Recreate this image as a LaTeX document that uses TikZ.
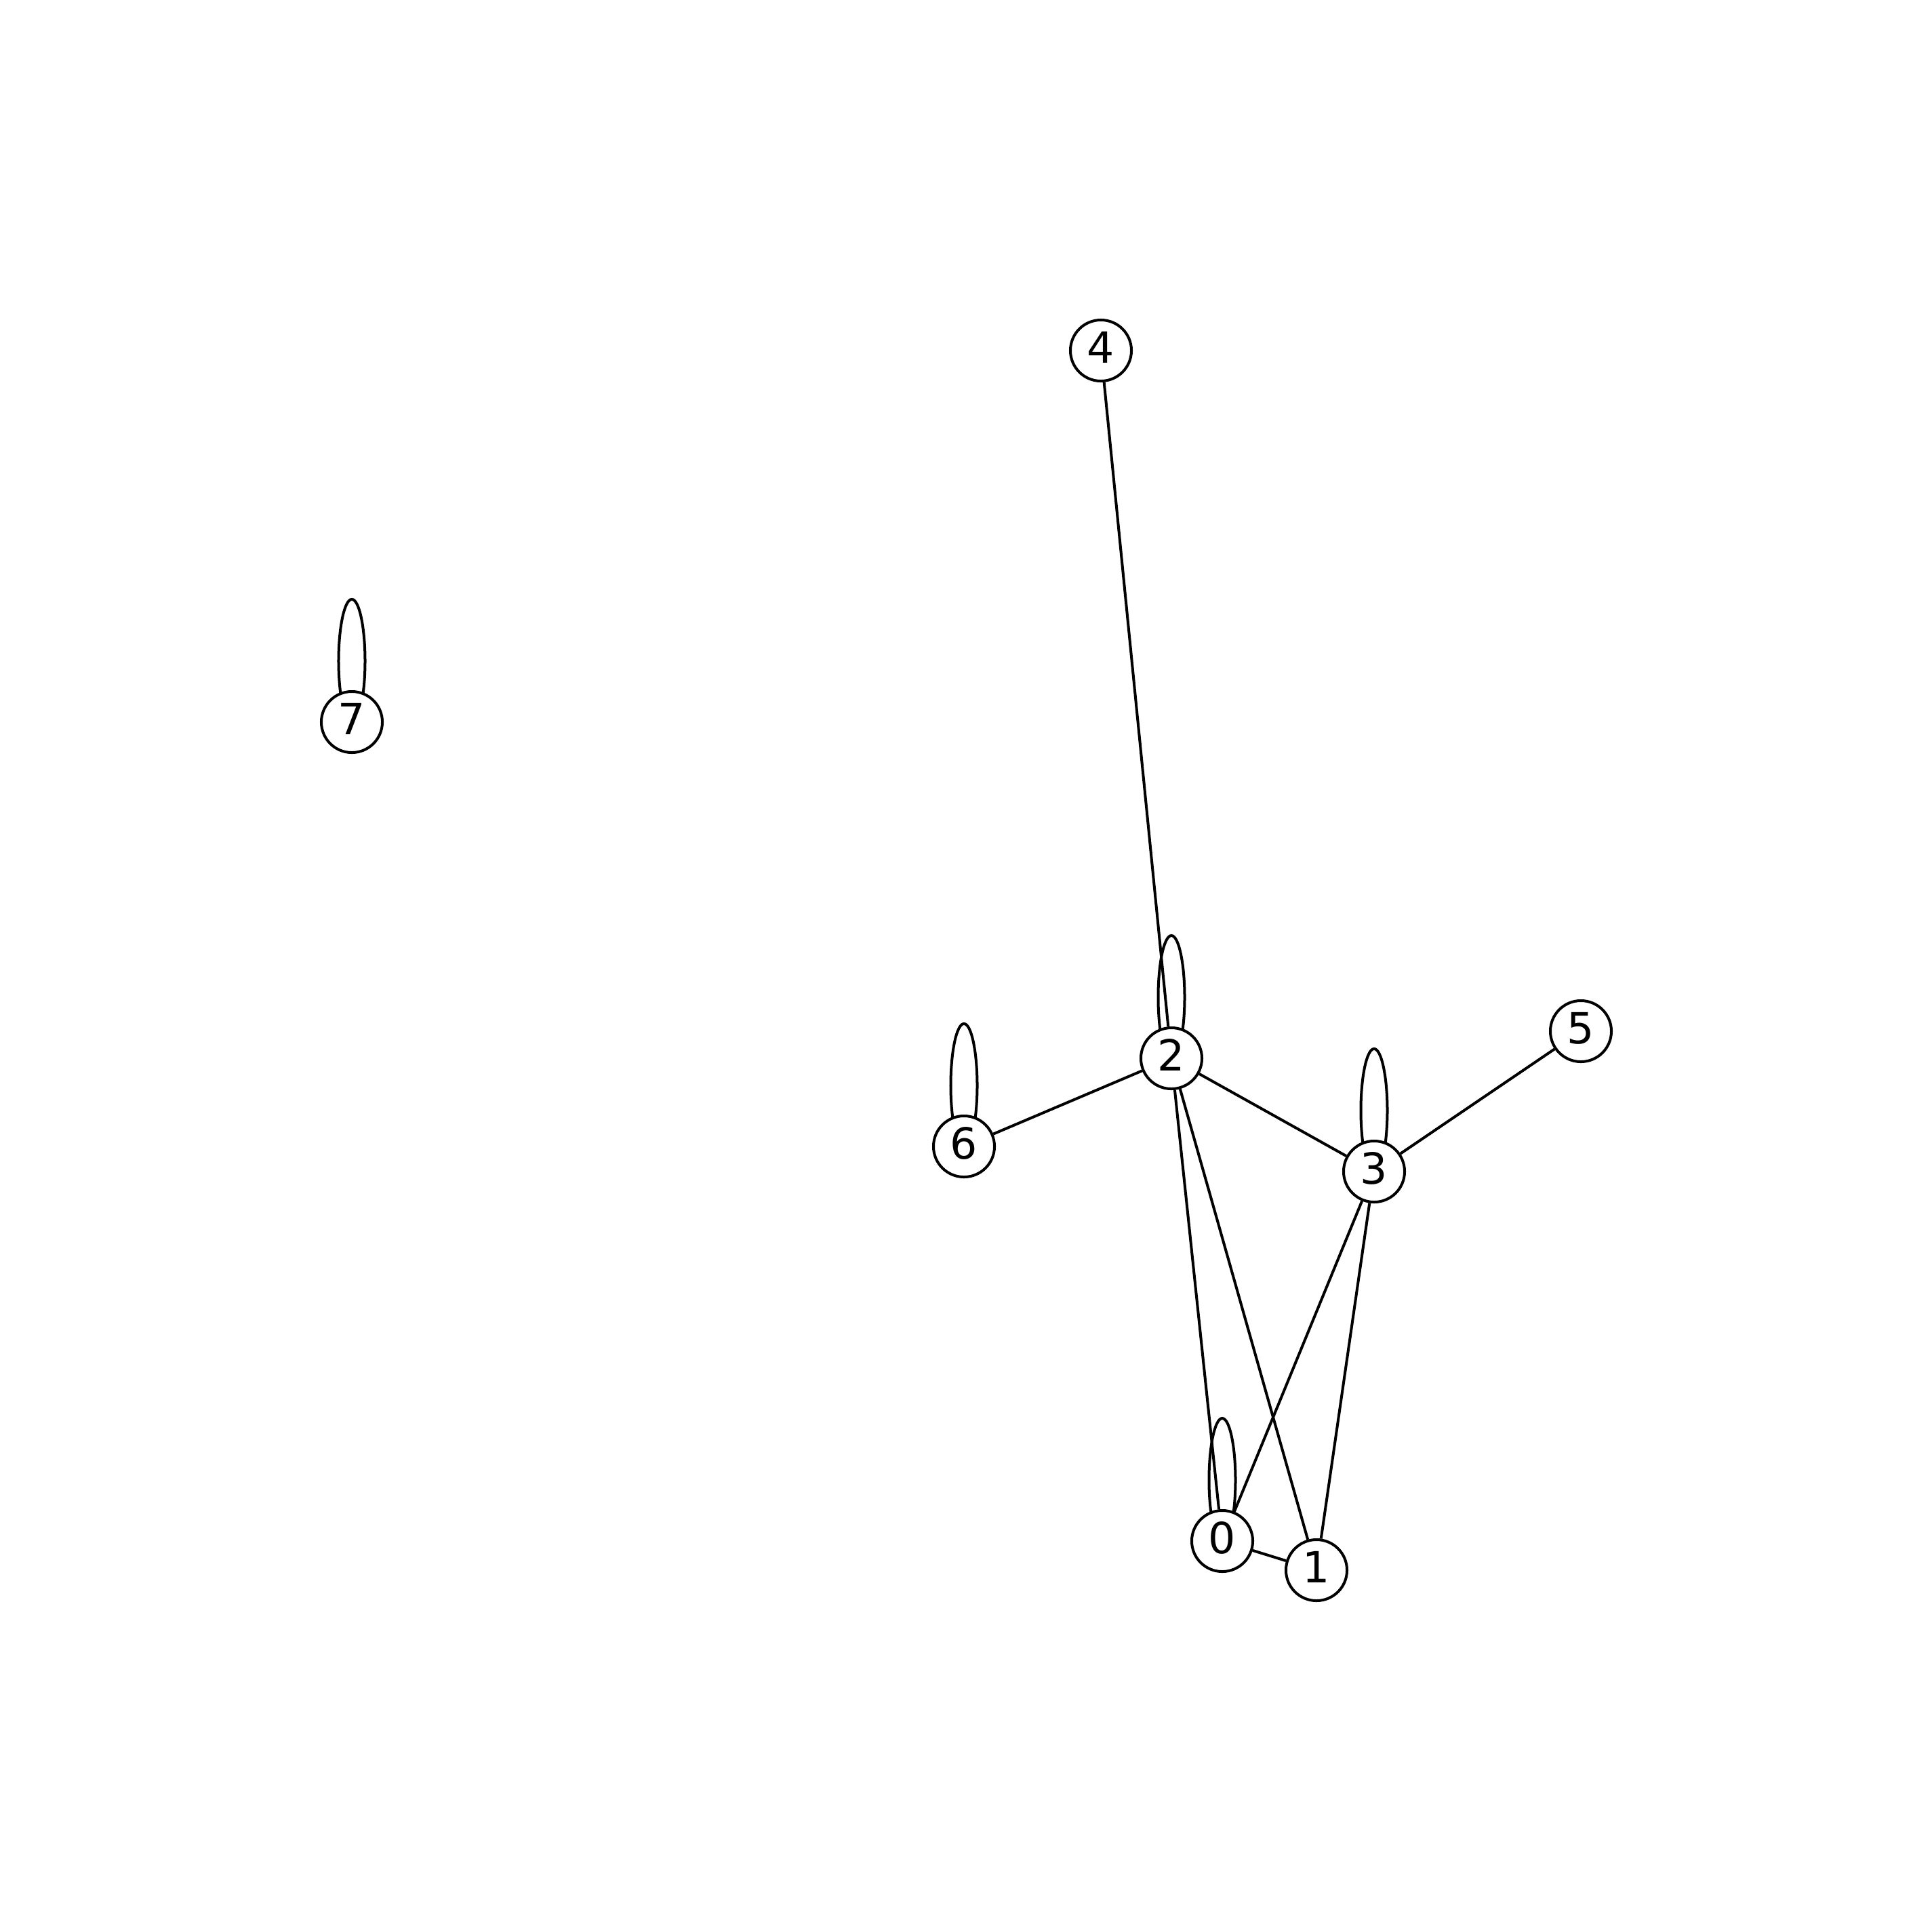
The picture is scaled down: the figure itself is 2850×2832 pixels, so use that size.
\documentclass[tikz,border=0pt]{standalone}
\usepackage{fontspec}
\setmainfont{DejaVu Sans}
\usetikzlibrary{calc,backgrounds}
\tikzset{
  vert/.style={circle, draw=black, fill=white, line width=0.04cm, inner sep=0pt,
    minimum size=0.9cm, font=\fontsize{18pt}{18pt}\selectfont,
    text height=0.46cm, text depth=0.1cm},
  edge/.style={draw=black, line width=0.04cm},
}
\newcommand{\selfloop}[1]{%
  \draw[edge] ($(#1)+(0,-90)$) ellipse [x radius=0.195cm, y radius=0.91cm];}
\begin{document}
\begin{tikzpicture}[x=0.01cm, y=-0.01cm]
\useasboundingbox (0,0) rectangle (2850,2832);
\node[vert] (n0) at (1803,2273) {0};
\node[vert] (n1) at (1942,2316) {1};
\node[vert] (n2) at (1728,1561) {2};
\node[vert] (n3) at (2027,1728) {3};
\node[vert] (n4) at (1624,517) {4};
\node[vert] (n5) at (2332,1521) {5};
\node[vert] (n6) at (1422,1691) {6};
\node[vert] (n7) at (519,1065) {7};
\begin{pgfonlayer}{background}
\selfloop{n7}
\selfloop{n2}
\selfloop{n6}
\selfloop{n3}
\selfloop{n0}
\end{pgfonlayer}
\draw[edge] (n2) -- (n4);
\draw[edge] (n2) -- (n6);
\draw[edge] (n2) -- (n3);
\draw[edge] (n2) -- (n0);
\draw[edge] (n2) -- (n1);
\draw[edge] (n3) -- (n5);
\draw[edge] (n3) -- (n0);
\draw[edge] (n3) -- (n1);
\draw[edge] (n0) -- (n1);
\end{tikzpicture}
\end{document}
